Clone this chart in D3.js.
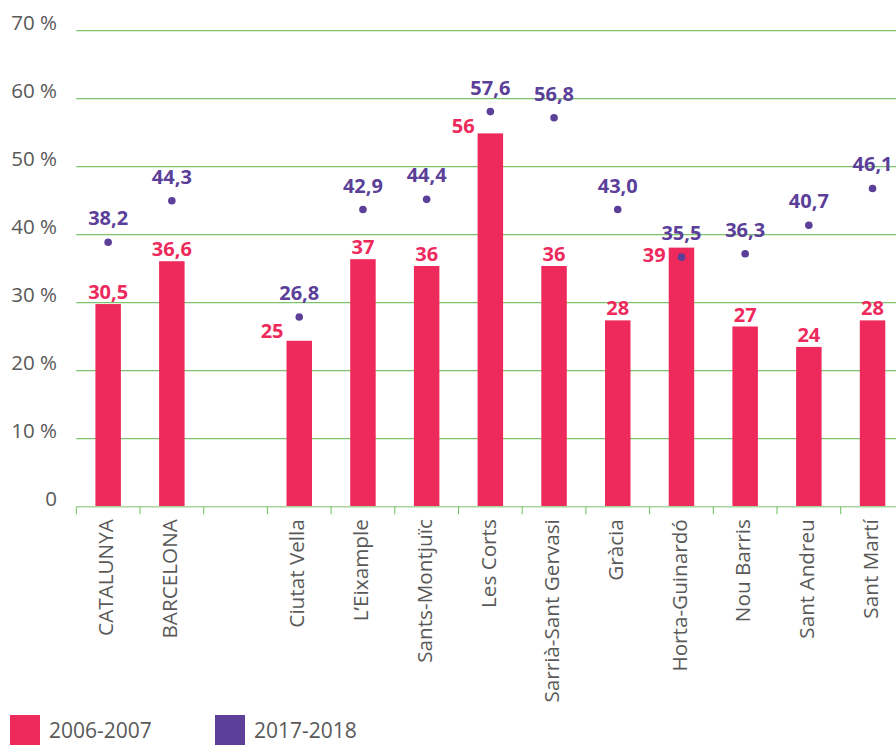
<!DOCTYPE html>
<html>
<head>
<meta charset="utf-8">
<script src="https://cdn.jsdelivr.net/npm/d3@7"></script>
<style>
    body { margin: 0; background: #fff; }
    svg { display: block; }
    text { font-family: "Open Sans", sans-serif; }
    .yLabel { fill: #595959; font-size: 20.5px; }
    .catLabel { fill: #595959; font-size: 20.7px; }
    .valLabel { font-size: 20px; font-weight: 700; }
    .legendText { fill: #595959; font-size: 21px; }
</style>
</head>
<body>
<svg id="chart"></svg>
<script>
"use strict";

const width = 896;
const height = 745;

// data ("" is the empty slot after BARCELONA)
const categories = ["CATALUNYA", "BARCELONA", "", "Ciutat Vella", "L\u2019Eixample", "Sants-Montjuïc",
    "Les Corts", "Sarrià-Sant Gervasi", "Gràcia", "Horta-Guinardó", "Nou Barris", "Sant Andreu", "Sant Martí"];
const values2006 = [29.8, 36.1, null, 24.4, 36.4, 35.4, 54.9, 35.4, 27.4, 38.1, 26.5, 23.5, 27.4];
const labels2006 = ["30,5", "36,6", "", "25", "37", "36", "56", "36", "28", "39", "27", "24", "28"];
const values2017 = [38.9, 45.0, null, 27.9, 43.7, 45.2, 58.1, 57.2, 43.7, 36.7, 37.2, 41.4, 46.8];
const labels2017 = ["38,2", "44,3", "", "26,8", "42,9", "44,4", "57,6", "56,8", "43,0", "35,5", "36,3", "40,7", "46,1"];
const yTicks = [0, 10, 20, 30, 40, 50, 60, 70];
const seriesNames = ["2006-2007", "2017-2018"];

const colors = { bar: "#ee2a5c", dot: "#5b3f99", grid: "#7dc36b", axis: "#a8d59c", tick: "#6cbf5a" };

// bar labels that sit to the left of the bar, with vertical shift from bar top
const sideLabels = { "Ciutat Vella": -3, "Les Corts": 0, "Horta-Guinardó": 14 };

const svg = d3.select("#chart").attr("width", width).attr("height", height);

const x = d3.scaleBand().domain(categories).range([76.3, 904.4]).padding(0);
const y = d3.scaleLinear().domain([0, 70]).range([506.7, 30.7]);
const barWidth = x.bandwidth() * 0.4;
const cx = c => x(c) + x.bandwidth() / 2;

const rows = categories.map((c, i) => ({
    cat: c, v06: values2006[i], l06: labels2006[i], v17: values2017[i], l17: labels2017[i]
})).filter(d => d.cat !== "");

// grid lines + y labels
svg.append("g").selectAll("line.grid")
    .data(yTicks.filter(t => t > 0))
    .enter().append("line")
    .attr("class", "grid")
    .attr("x1", 76.3).attr("x2", width)
    .attr("y1", d => y(d)).attr("y2", d => y(d))
    .attr("stroke", colors.grid).attr("stroke-width", 1.2);

svg.append("g").selectAll("text.yLabel")
    .data(yTicks)
    .enter().append("text")
    .attr("class", "yLabel")
    .attr("x", 57).attr("y", d => y(d) - 1)
    .attr("text-anchor", "end")
    .text(d => d === 0 ? "0" : `${d} %`);

// bars
svg.append("g").selectAll("rect.bar")
    .data(rows)
    .enter().append("rect")
    .attr("class", "bar")
    .attr("x", d => cx(d.cat) - barWidth / 2)
    .attr("width", barWidth)
    .attr("y", d => y(d.v06))
    .attr("height", d => y(0) - y(d.v06))
    .attr("fill", colors.bar);

// x axis line, ticks at slot edges, rotated labels
svg.append("line")
    .attr("x1", 76.3).attr("x2", width)
    .attr("y1", y(0)).attr("y2", y(0))
    .attr("stroke", colors.axis).attr("stroke-width", 1.5);

svg.append("g").selectAll("line.xtick")
    .data(categories)
    .enter().append("line")
    .attr("class", "xtick")
    .attr("x1", d => x(d)).attr("x2", d => x(d))
    .attr("y1", y(0)).attr("y2", y(0) + 7.5)
    .attr("stroke", colors.tick).attr("stroke-width", 1);

const xAxis = svg.append("g")
    .attr("transform", `translate(0,${y(0)})`)
    .call(d3.axisBottom(x).tickSize(0))
    .attr("font-family", null)
    .attr("font-size", null);
xAxis.select(".domain").remove();
xAxis.selectAll("text")
    .attr("class", "catLabel")
    .attr("transform", "rotate(-90)")
    .attr("x", -12.5).attr("y", 0).attr("dy", "0.25em")
    .attr("text-anchor", "end")
    .attr("fill", null);

// bar value labels
svg.append("g").selectAll("text.lab06")
    .data(rows)
    .enter().append("text")
    .attr("class", "valLabel lab06")
    .attr("fill", colors.bar)
    .attr("x", d => d.cat in sideLabels ? cx(d.cat) - barWidth / 2 - 3 : cx(d.cat))
    .attr("y", d => d.cat in sideLabels ? y(d.v06) + sideLabels[d.cat] : y(d.v06) - 5)
    .attr("text-anchor", d => d.cat in sideLabels ? "end" : "middle")
    .text(d => d.l06);

// dots
svg.append("g").selectAll("circle.dot")
    .data(rows)
    .enter().append("circle")
    .attr("class", "dot")
    .attr("cx", d => cx(d.cat))
    .attr("cy", d => y(d.v17))
    .attr("r", 3.8)
    .attr("fill", colors.dot);

svg.append("g").selectAll("text.lab17")
    .data(rows)
    .enter().append("text")
    .attr("class", "valLabel lab17")
    .attr("fill", colors.dot)
    .attr("x", d => cx(d.cat))
    .attr("y", d => y(d.v17) - 17)
    .attr("text-anchor", "middle")
    .text(d => d.l17);

// legend
const legend = svg.append("g").selectAll("g.legendItem")
    .data(seriesNames)
    .enter().append("g")
    .attr("class", "legendItem")
    .attr("transform", (d, i) => `translate(${10 + i * 205},715)`);
legend.append("rect")
    .attr("width", 30).attr("height", 30)
    .attr("fill", (d, i) => i === 0 ? colors.bar : colors.dot);
legend.append("text")
    .attr("class", "legendText")
    .attr("x", 39).attr("y", 23)
    .text(d => d);
</script>
</body>
</html>
